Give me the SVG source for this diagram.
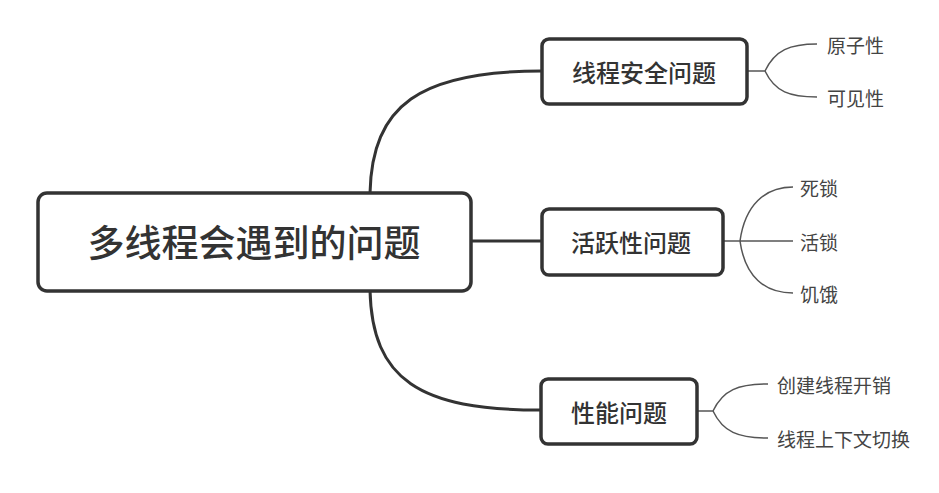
<svg xmlns="http://www.w3.org/2000/svg" width="939" height="493" viewBox="0 0 939 493">
<style>
.box{fill:#fff;stroke:#333;stroke-width:3.5}
.t{font-family:"Noto Sans CJK SC","Noto Sans",sans-serif;fill:#333;font-weight:500;dominant-baseline:central}
.root{font-size:37px;text-anchor:middle}
.nd{font-size:24px;text-anchor:middle}
.lf{font-size:19px;fill:#444;font-weight:normal}
.main{fill:none;stroke:#333;stroke-width:3}
.sub{fill:none;stroke:#555;stroke-width:1.5}
</style>
<rect width="939" height="493" fill="#fff"/>
<g id="connectors">
<path class="main" d="M370,193 C372,105 420,71 542,71"/>
<path class="main" d="M472,241 L542,241"/>
<path class="main" d="M370,290 C372,380 420,410 540,410"/>
<path class="sub" d="M748,71 L765,71 C775,50 790,44 817,44 M765,71 C775,92 790,97 817,97"/>
<path class="sub" d="M723,241 L793,241 M740,241 C745,205 765,187 793,187 M740,241 C745,277 765,293 793,293"/>
<path class="sub" d="M697,411 L713,411 C723,390 738,384 768,384 M713,411 C723,432 738,438 768,438"/>
</g>
<g id="root">
<rect class="box" x="38" y="193" width="433" height="98" rx="9"/>
<text class="t root" x="254" y="241">多线程会遇到的问题</text>
</g>
<g id="n1">
<rect class="box" x="542" y="39" width="205" height="65" rx="7"/>
<text class="t nd" x="644" y="71">线程安全问题</text>
</g>
<g id="n2">
<rect class="box" x="542" y="209" width="181" height="66" rx="7"/>
<text class="t nd" x="631" y="241">活跃性问题</text>
</g>
<g id="n3">
<rect class="box" x="541" y="379" width="156" height="65" rx="7"/>
<text class="t nd" x="619" y="411">性能问题</text>
</g>
<g id="l1"><text class="t lf" x="827" y="44">原子性</text></g>
<g id="l2"><text class="t lf" x="827" y="97">可见性</text></g>
<g id="l3"><text class="t lf" x="800" y="187">死锁</text></g>
<g id="l4"><text class="t lf" x="800" y="241">活锁</text></g>
<g id="l5"><text class="t lf" x="800" y="293">饥饿</text></g>
<g id="l6"><text class="t lf" x="777" y="384">创建线程开销</text></g>
<g id="l7"><text class="t lf" x="777" y="438">线程上下文切换</text></g>
</svg>
